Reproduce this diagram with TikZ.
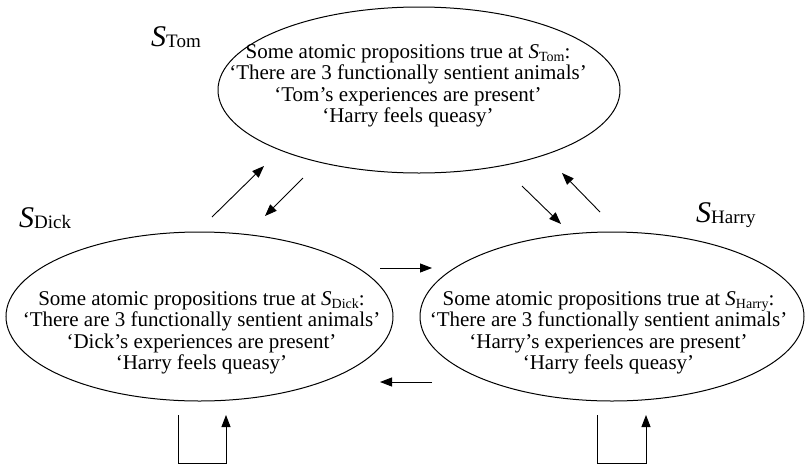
\documentclass[tikz,border=0pt]{standalone}
\usepackage{fontspec}
\setmainfont{Liberation Serif}
\usetikzlibrary{arrows.meta,shapes.geometric}
\newcommand{\bigS}[1]{{\fontsize{30}{30}\selectfont\itshape S}\raisebox{-0.15em}{\fontsize{19}{19}\selectfont #1}}
\newcommand{\smS}[1]{{\itshape S}\raisebox{-0.15em}{\fontsize{14}{14}\selectfont #1}}
\begin{document}
\begin{tikzpicture}[x=1pt,y=-1pt,
  world/.style={draw, ellipse, line width=1pt, inner sep=0pt},
  props/.style={align=center, inner sep=0pt, font=\fontsize{21}{21.5}\selectfont},
  lbl/.style={inner sep=0pt, anchor=base west},
  link/.style={line width=0.9pt, -{Triangle[length=12pt,width=9pt]}}]
\useasboundingbox (0,0) rectangle (805,464);
% worlds
\node[world, minimum width=402pt, minimum height=166pt] (tom) at (419,90) {};
\node[world, minimum width=387pt, minimum height=169pt] (dick) at (199.5,316.5) {};
\node[world, minimum width=384pt, minimum height=169pt] (harry) at (612,316.5) {};
% texts
\node[props] (tomtext) at (408,86) {Some atomic propositions true at \smS{Tom}:\\
  `There are 3 functionally sentient animals'\\
  `Tom's experiences are present'\\
  `Harry feels queasy'};
\node[props] (dicktext) at (201.5,333) {Some atomic propositions true at \smS{Dick}:\\
  `There are 3 functionally sentient animals'\\
  `Dick's experiences are present'\\
  `Harry feels queasy'};
\node[props] (harrytext) at (608.5,333) {Some atomic propositions true at \smS{Harry}:\\
  `There are 3 functionally sentient animals'\\
  `Harry's experiences are present'\\
  `Harry feels queasy'};
% labels
\node[lbl] (stom) at (151,46) {\bigS{Tom}};
\node[lbl] (sdick) at (19,227) {\bigS{Dick}};
\node[lbl] (sharry) at (696,222) {\bigS{Harry}};
% arrow end points
\coordinate (a1s) at (212,217); \coordinate (a1e) at (264,166);
\coordinate (a2s) at (303,178); \coordinate (a2e) at (265,216);
\coordinate (a3s) at (522,186); \coordinate (a3e) at (561,224);
\coordinate (a4s) at (600,212); \coordinate (a4e) at (562,173);
\coordinate (a5s) at (380,268); \coordinate (a5e) at (432,268);
\coordinate (a6s) at (432,382); \coordinate (a6e) at (380,382);
\coordinate (ld1) at (178,415); \coordinate (ld2) at (178,463);
\coordinate (ld3) at (226,463); \coordinate (ld4) at (226,415);
\coordinate (lh1) at (597,415); \coordinate (lh2) at (597,463);
\coordinate (lh3) at (646,463); \coordinate (lh4) at (646,415);
% arrows
\draw[link] (a1s) -- (a1e);
\draw[link] (a2s) -- (a2e);
\draw[link] (a3s) -- (a3e);
\draw[link] (a4s) -- (a4e);
\draw[link] (a5s) -- (a5e);
\draw[link] (a6s) -- (a6e);
\draw[link] (ld1) -- (ld2) -- (ld3) -- (ld4);
\draw[link] (lh1) -- (lh2) -- (lh3) -- (lh4);
\end{tikzpicture}
\end{document}
